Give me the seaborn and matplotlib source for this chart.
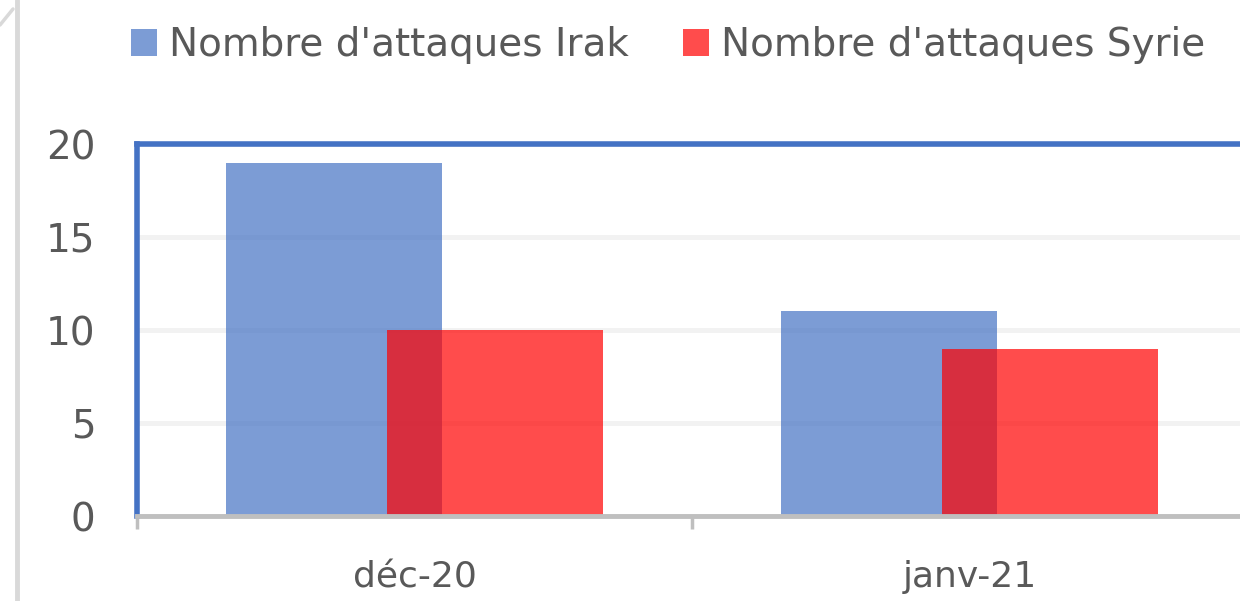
import matplotlib
matplotlib.use("Agg")
import matplotlib.pyplot as plt
from matplotlib.patches import Patch
from matplotlib.lines import Line2D
import pandas as pd
import seaborn as sns

# data
mois = ["déc-20", "janv-21"]
attaques_irak = [19, 11]
attaques_syrie = [10, 9]
series = ["Nombre d'attaques Irak", "Nombre d'attaques Syrie"]
couleurs = ["#4472C4", "#FF0000"]

df = pd.DataFrame({
    "mois": mois * 2,
    "attaques": attaques_irak + attaques_syrie,
    "serie": [series[0]] * len(mois) + [series[1]] * len(mois),
})

sns.set_style("white")
plt.rcParams["font.family"] = ["DejaVu Sans"]

fig = plt.figure(figsize=(12.4, 6.01), dpi=100)
ax = fig.add_axes([137 / 1240, 1 - 516 / 601, 1110 / 1240, 372 / 601])

# overlapping bars: negative gap widens the dodged bars so they overlap
sns.barplot(data=df, x="mois", y="attaques", hue="serie", hue_order=series,
            palette=couleurs, saturation=1, alpha=0.7, width=0.58, gap=-0.345,
            linewidth=0, legend=False, ax=ax, zorder=2)

ax.set_xlim(-0.5, 1.5)
ax.set_ylim(0, 20)
ax.set_yticks([0, 5, 10, 15, 20])
ax.set_xlabel("")
ax.set_ylabel("")

ax.yaxis.grid(True, color="#F2F2F2", lw=3.5)
ax.set_axisbelow(True)

for s in ["top", "left", "right"]:
    ax.spines[s].set_color("#4472C4")
    ax.spines[s].set_linewidth(4)
ax.spines["bottom"].set_color("#BFBFBF")
ax.spines["bottom"].set_linewidth(3.5)

# small grey ticks between the categories
ax.set_xticks([-0.5, 0.5, 1.5], minor=True)
ax.tick_params(axis="x", which="minor", bottom=True, direction="out",
               length=9, width=2.5, color="#BFBFBF")
ax.tick_params(axis="x", which="major", length=0, pad=32, labelsize=26,
               labelcolor="#595959")
ax.tick_params(axis="y", length=0, pad=30, labelsize=28, labelcolor="#595959")

handles = [Patch(facecolor=c, alpha=0.7, edgecolor="none") for c in couleurs]
ax.legend(handles, series, loc="center left",
          bbox_to_anchor=(131 / 1240, 1 - 45 / 601),
          bbox_transform=fig.transFigure, ncol=2, frameon=False,
          fontsize=28, labelcolor="#595959", handlelength=0.67,
          handleheight=0.67, handletextpad=0.3, columnspacing=1.4,
          borderpad=0, borderaxespad=0)

# edge of the surrounding chart frame
fig.add_artist(Line2D([17 / 1240, 17 / 1240], [0, 1], transform=fig.transFigure,
                      color="#D9D9D9", lw=3.5))
fig.add_artist(Line2D([0, 13 / 1240], [1 - 25 / 601, 1 - 9 / 601],
                      transform=fig.transFigure, color="#D9D9D9", lw=2.5))

fig.savefig("out.png", dpi=100)
